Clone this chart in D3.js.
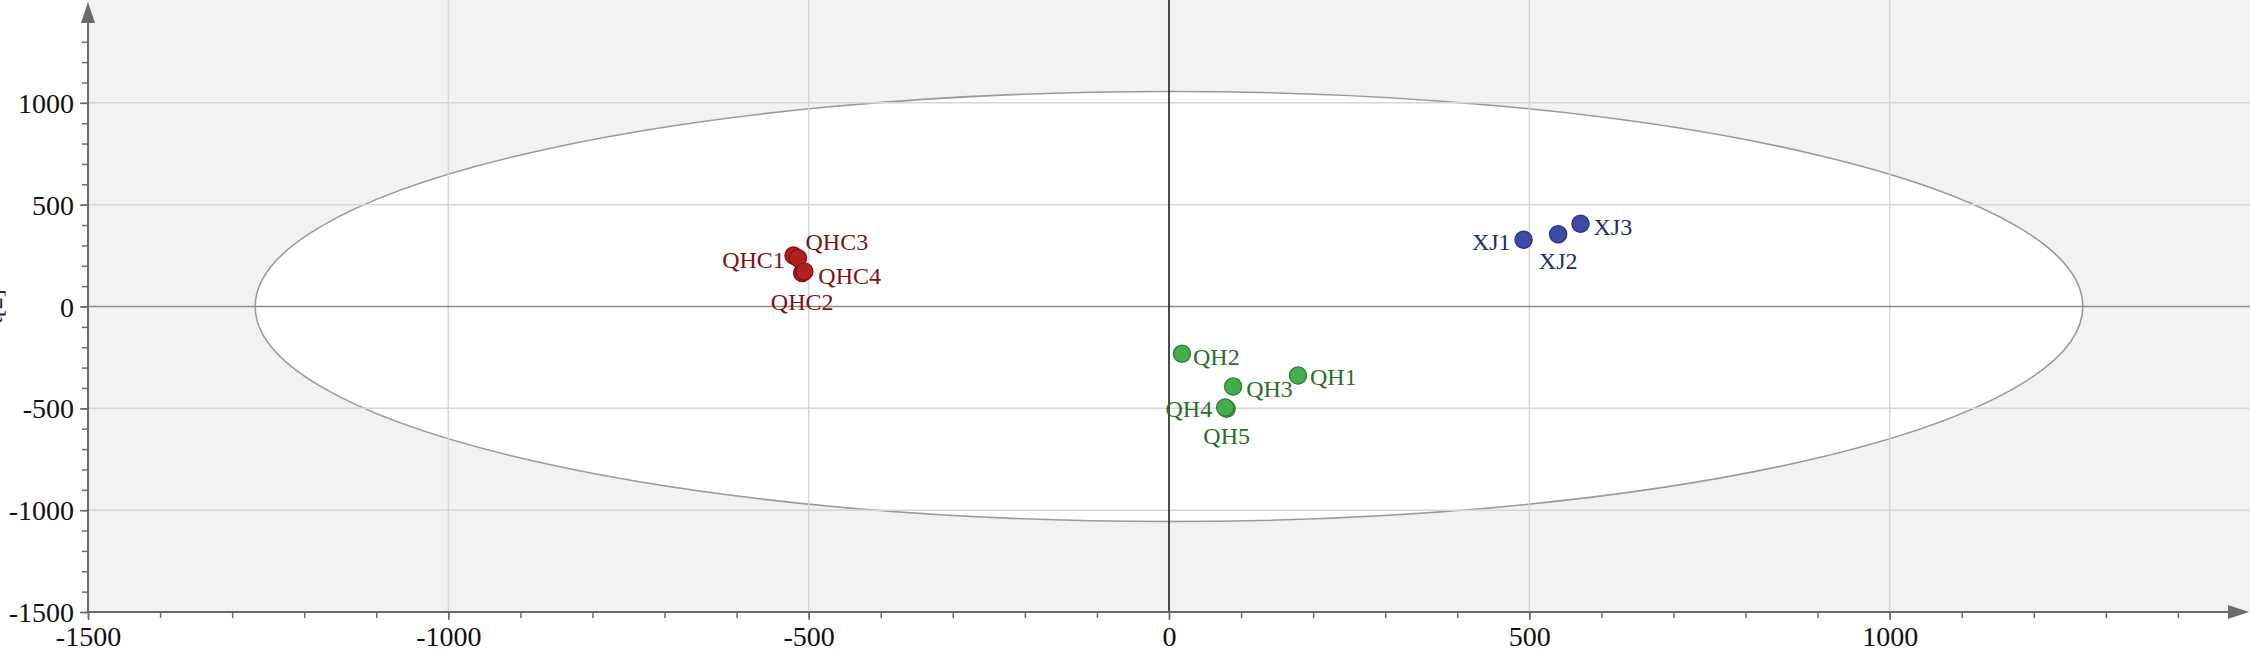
<!DOCTYPE html>
<html>
<head>
<meta charset="utf-8">
<script src="https://cdn.jsdelivr.net/npm/d3@7"></script>
<style>
  html, body { margin: 0; padding: 0; background: #fff; }
  svg { display: block; }
</style>
</head>
<body>
<div id="chart"></div>
<script>
// Score plot data (t[1] horizontal, t[2] vertical)
const sampleNames = ['QHC3', 'QHC2', 'QHC1', 'QHC4', 'QH1', 'QH2', 'QH3', 'QH5', 'QH4', 'XJ1', 'XJ2', 'XJ3'];
const sampleGroups = ['QHC', 'QHC', 'QHC', 'QHC', 'QH', 'QH', 'QH', 'QH', 'QH', 'XJ', 'XJ', 'XJ'];
const t1Values = [-521, -509, -515, -506, 179, 18, 89, 80, 78, 492, 540, 571];
const t2Values = [250, 165, 238, 172, -339, -232, -393, -502, -496, 328, 355, 406];

const groupNames = ['QHC', 'QH', 'XJ'];
const majorTicks = [-1500, -1000, -500, 0, 500, 1000];
const gridValues = [-1000, -500, 500, 1000];

// Hotelling T2 ellipse semi-axes (data units)
const ellipseRx = 1268;
const ellipseRy = 1056;

const W = 2250, H = 656;
const margin = { top: 1, right: 0, bottom: 44, left: 88 };

const groupFill   = { QHC: '#b3201f', QH: '#45ae4c', XJ: '#3c4ca6' };
const groupStroke = { QHC: '#7e1212', QH: '#2c7a30', XJ: '#252f7c' };
const groupText   = { QHC: '#7a1414', QH: '#2a6d2c', XJ: '#222d70' };

// label placement around each point: [anchor, dx, dy]
const labelPlace = {
    QHC1: ['end', -13, 2], QHC3: ['start', 12, -14], QHC4: ['start', 14, 4], QHC2: ['middle', 0, 29],
    QH1: ['start', 12, 1], QH2: ['start', 11, 3], QH3: ['start', 13, 2], QH4: ['end', -13, 1], QH5: ['middle', 0, 27],
    XJ1: ['end', -13, 2], XJ2: ['middle', 0, 27], XJ3: ['start', 13, 3]
};

const points = sampleNames.map((name, i) => ({
    name, group: sampleGroups[i], x: t1Values[i], y: t2Values[i]
}));

const svg = d3.select('#chart').append('svg')
    .attr('width', W)
    .attr('height', H)
    .style('font-family', '"Liberation Serif", "Times New Roman", serif');

const x = d3.scaleLinear().domain([-1500, 1500]).range([margin.left, W - margin.right]);
const y = d3.scaleLinear().domain([-1500, 1500]).range([H - margin.bottom, margin.top]);

const x0 = x(-1500), y0 = y(-1500);

// Plot background
svg.append('rect')
    .attr('x', x0).attr('y', 0)
    .attr('width', W - x0).attr('height', y0)
    .attr('fill', '#f2f2f2');

// Confidence ellipse
svg.append('ellipse')
    .attr('cx', x(0)).attr('cy', y(0))
    .attr('rx', x(ellipseRx) - x(0))
    .attr('ry', y(0) - y(ellipseRy))
    .attr('fill', '#fff')
    .attr('stroke', '#9a9a9a')
    .attr('stroke-width', 1.6);

// Grid lines
const grid = svg.append('g').attr('stroke', '#d6d6d6').attr('stroke-width', 1.5);
grid.selectAll('.gx').data(gridValues).enter().append('line')
    .attr('x1', d => x(d)).attr('x2', d => x(d))
    .attr('y1', 0).attr('y2', y0);
grid.selectAll('.gy').data(gridValues).enter().append('line')
    .attr('x1', x0).attr('x2', W)
    .attr('y1', d => y(d)).attr('y2', d => y(d));

// Zero lines
svg.append('line')
    .attr('x1', x0).attr('x2', W)
    .attr('y1', y(0)).attr('y2', y(0))
    .attr('stroke', '#8c8c8c').attr('stroke-width', 1.5);
svg.append('line')
    .attr('x1', x(0)).attr('x2', x(0))
    .attr('y1', 0).attr('y2', y0)
    .attr('stroke', '#1e1e1e').attr('stroke-width', 1.6);

// ── Axes ──────────────────────────────────────────────────────────────
const minorTicks = d3.range(-1500, 1500, 100);
const fmt = d => String(d);

const xAxis = svg.append('g')
    .attr('transform', `translate(0,${y0})`)
    .call(d3.axisBottom(x).tickValues(minorTicks).tickSize(6).tickFormat(''));
xAxis.append('g')
    .call(d3.axisBottom(x).tickValues(majorTicks).tickSize(8).tickFormat(fmt));

const yAxis = svg.append('g')
    .attr('transform', `translate(${x0},0)`)
    .call(d3.axisLeft(y).tickValues(minorTicks).tickSize(6).tickFormat(''));
yAxis.append('g')
    .call(d3.axisLeft(y).tickValues(majorTicks).tickSize(8).tickFormat(fmt));

[xAxis, yAxis].forEach(ax => {
    ax.selectAll('.domain').remove();
    ax.selectAll('line').attr('stroke', '#6a6a6a').attr('stroke-width', 1.5);
    ax.selectAll('text')
        .attr('fill', '#111')
        .style('font-family', '"Liberation Serif", "Times New Roman", serif')
        .style('font-size', '28px');
});
xAxis.selectAll('text').attr('y', 14).attr('dy', '0.71em');
yAxis.selectAll('text').attr('x', -14).attr('dy', '0.34em');

// Axis lines with arrow heads
svg.append('line')
    .attr('x1', x0).attr('x2', W - 20)
    .attr('y1', y0).attr('y2', y0)
    .attr('stroke', '#6a6a6a').attr('stroke-width', 2);
svg.append('path')
    .attr('d', `M${W - 1},${y0} L${W - 22},${y0 - 7} L${W - 22},${y0 + 7} Z`)
    .attr('fill', '#6a6a6a');
svg.append('line')
    .attr('x1', x0).attr('x2', x0)
    .attr('y1', y0).attr('y2', 22)
    .attr('stroke', '#6a6a6a').attr('stroke-width', 2);
svg.append('path')
    .attr('d', `M${x0},2 L${x0 - 7},23 L${x0 + 7},23 Z`)
    .attr('fill', '#6a6a6a');

// Y axis title, mostly cut off by the left edge
svg.append('text')
    .attr('transform', `translate(2,${y(0)}) rotate(-90)`)
    .attr('text-anchor', 'middle')
    .style('font-size', '24px')
    .attr('fill', '#223')
    .text('t[2]');

// ── Points ────────────────────────────────────────────────────────────
const pts = svg.append('g');
pts.selectAll('circle')
    .data(points)
    .enter()
    .append('circle')
    .attr('cx', d => x(d.x))
    .attr('cy', d => y(d.y))
    .attr('r', 8.6)
    .attr('fill', d => groupFill[d.group])
    .attr('stroke', d => groupStroke[d.group])
    .attr('stroke-width', 1.3);

pts.selectAll('text')
    .data(points)
    .enter()
    .append('text')
    .attr('x', d => x(d.x) + labelPlace[d.name][1])
    .attr('y', d => y(d.y) + labelPlace[d.name][2])
    .attr('dy', '0.34em')
    .attr('text-anchor', d => labelPlace[d.name][0])
    .style('font-size', '24px')
    .attr('fill', d => groupText[d.group])
    .text(d => d.name);
</script>
</body>
</html>
